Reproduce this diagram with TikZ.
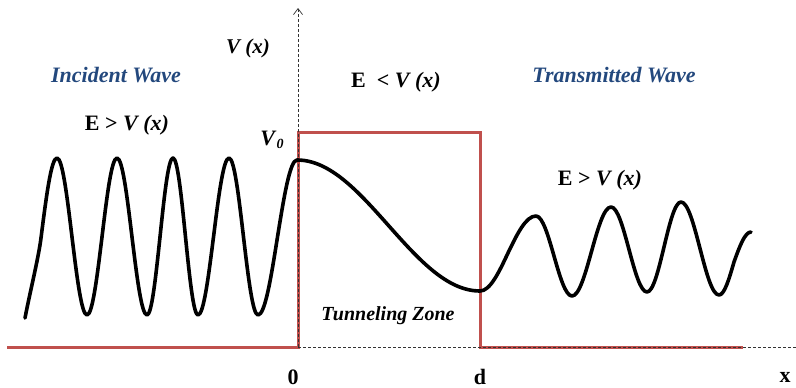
\documentclass[tikz,border=0pt]{standalone}
\usepackage{fontspec}
\setmainfont{Liberation Serif}
\usetikzlibrary{arrows.meta}
\definecolor{barred}{RGB}{192,80,77}
\definecolor{waveblue}{RGB}{35,72,125}
\begin{document}
\begin{tikzpicture}[x=1pt,y=-1pt,
  lbl/.style={font=\fontsize{22}{24}\selectfont\bfseries, inner sep=0pt, anchor=center},
  title/.style={lbl, font=\fontsize{22}{24}\selectfont\bfseries\itshape, text=waveblue},
  zone/.style={lbl, font=\fontsize{20}{22}\selectfont\bfseries\itshape},
  axisline/.style={densely dashed, line width=0.7pt, black!80},
  barrier/.style={barred, line width=3pt, line join=miter},
  wave/.style={black, line width=3.6pt, line cap=round, line join=round}]
\useasboundingbox (0,0) rectangle (796,388);
% coordinates
\coordinate (L) at (7,347);
\coordinate (O) at (298,347);
\coordinate (B1) at (298,132);
\coordinate (B2) at (480,132);
\coordinate (D) at (480,347);
\coordinate (R) at (743,347);
\coordinate (ytop) at (298,8);
\coordinate (xend) at (796,347);
% potential barrier
\draw[barrier] (L) -- (O) -- (B1) -- (B2) -- (D) -- (R);
% axes
\draw[axisline, -{Straight Barb[length=6pt,width=9pt]}] (O) -- (ytop);
\draw[axisline] (O) -- (xend);
% wave function
\draw[wave] (25,318) .. controls (30,292) and (38.5,258) .. (41,238)
  sin (57,158) cos (72,237) sin (87,315)
  cos (102,237) sin (117,158) cos (132,237) sin (147,315)
  cos (160,237) sin (173,158) cos (185.5,237) sin (198,315)
  cos (213.5,237) sin (229,158) cos (243.5,237) sin (258,315)
  cos (277.5,237) sin (297,160) cos (388.5,225.5) sin (480,291)
  cos (508,253) sin (536,216) cos (554,256) sin (572,296)
  cos (591.5,251.5) sin (611,207) cos (629,249.5) sin (647,292)
  cos (664,247) sin (681,202) cos (700,248.5) sin (719,295)
  cos (734,262) sin (751,232);
% labels
\node[lbl, font=\fontsize{21}{23}\selectfont\bfseries\itshape] (vx) at (248,48) {V (x)};
\node[title] (inc) at (116,75) {Incident Wave};
\node[title] (trans) at (614,75) {Transmitted Wave};
\node[lbl] (eleft) at (127,125) {E > \textit{V (x)}};
\node[lbl] (emid) at (396,82) {E \ < \textit{V (x)}};
\node[lbl] (eright) at (600,180) {E > \textit{V (x)}};
\node[lbl] (v0) at (272,140) {\textit{V}\raisebox{-0.35ex}{\fontsize{14}{14}\selectfont\textit{0}}};
\node[zone] (tz) at (388,316) {Tunneling Zone};
\node[lbl] (zero) at (293,377) {0};
\node[lbl] (dd) at (480,377) {d};
\node[lbl] (xx) at (785,377) {x};
\end{tikzpicture}
\end{document}
